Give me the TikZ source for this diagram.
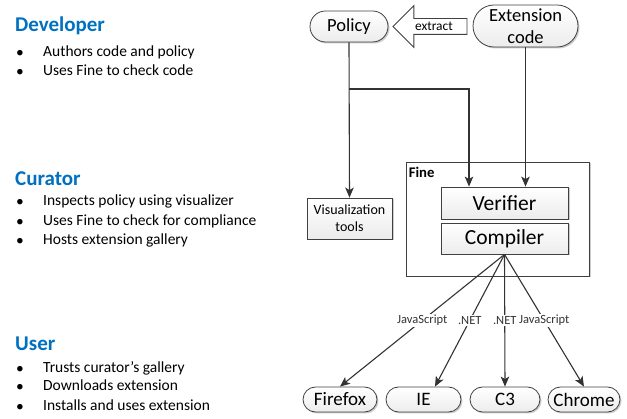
\documentclass[tikz,border=0pt]{standalone}
\usepackage{fontspec}
\setmainfont{Carlito}
\usetikzlibrary{arrows.meta,shapes.arrows,shadows}
\definecolor{headblue}{RGB}{0,112,192}
\definecolor{boxgray}{RGB}{236,236,236}
\tikzset{
  box/.style={draw=black!75, line width=0.8pt, top color=white, bottom color=boxgray,
    drop shadow={shadow xshift=1.5pt,shadow yshift=-1.5pt,fill=black!40}, inner sep=0pt},
  arr/.style={-{Stealth[length=10pt,width=8.5pt,inset=2.5pt]}, line width=1.1pt, black!80},
  head/.style={anchor=mid west, inner sep=0pt, text=headblue, font=\fontsize{21}{25}\selectfont\bfseries},
  item/.style={anchor=mid west, inner sep=0pt, font=\fontsize{15.5}{19}\selectfont},
  dot/.style={inner sep=0pt, font=\fontsize{15.5}{19}\selectfont},
  lbl/.style={fill=white, inner sep=1pt, font=\fontsize{12.5}{14}\selectfont},
  browser/.style={box, rounded corners=12.5pt, minimum height=25pt, font=\fontsize{19}{22}\selectfont},
}
\begin{document}
\begin{tikzpicture}[x=1pt,y=-1pt]
\useasboundingbox (0,0) rectangle (627,419);

% roles
\node[head] (dev) at (15,29){Developer};
\foreach\y/\t [count=\i] in {54/Authors code and policy,73/Uses Fine to check code}{
	\node[dot] at (20,\y){\textbullet};
	\node[item] (dev\i) at (43,\y){\t};}

\node[head] (cur) at (15,183){Curator};
\foreach\y/\t [count=\i] in {203/Inspects policy using visualizer,223/Uses Fine to check for compliance,242/Hosts extension gallery}{
	\node[dot] at (20,\y){\textbullet};
	\node[item] (cur\i) at (43,\y){\t};}

\node[head] (usr) at (15,348){User};
\foreach\y/\t [count=\i] in {370/Trusts curator’s gallery,388/Downloads extension,408/Installs and uses extension}{
	\node[dot] at (20,\y){\textbullet};
	\node[item] (usr\i) at (43,\y){\t};}

% top row
\node[box, rounded corners=15.5pt, minimum width=78pt, minimum height=31pt,
  font=\fontsize{18.5}{22}\selectfont] (policy) at (349,26.5){Policy};
\node[box, rounded corners=21pt, minimum width=105pt, minimum height=42pt, align=center,
  font=\fontsize{18.5}{22}\selectfont] (extcode) at (525.5,26){Extension\\code};
\node[single arrow, draw=black!75, line width=0.8pt, fill=white, shape border rotate=180,
  anchor=tip, minimum height=74pt, single arrow head extend=13pt, single arrow tip angle=90,
  text height=10pt, text depth=1pt, inner ysep=2pt, inner xsep=2pt,
  font=\fontsize{13.4}{15}\selectfont] (extract) at ([xshift=4pt]policy.east){extract};

% tools
\node[box, minimum width=85pt, minimum height=41pt, align=center,
  font=\fontsize{14}{17}\selectfont] (vis) at (349.5,218.5){Visualization\\tools};
\node[box, top color=white, bottom color=white, minimum width=183pt, minimum height=114pt] (fine) at (497.5,219){};
\node[anchor=north west, inner sep=0pt, font=\fontsize{14.7}{17}\selectfont\bfseries] (finelbl)
  at ([xshift=3pt,yshift=-5pt]fine.north west){Fine};
\node[box, minimum width=127pt, minimum height=32pt, font=\fontsize{21.5}{25}\selectfont] (verifier) at (504.5,203){Verifier};
\node[box, minimum width=127pt, minimum height=31pt, font=\fontsize{21.5}{25}\selectfont] (compiler) at (504.5,238.5){Compiler};

% browsers
\node[browser, minimum width=74pt] (firefox) at (340,399.5){Firefox};
\node[browser, minimum width=75pt] (ie) at (423.5,399.5){IE};
\node[browser, minimum width=70pt] (cthree) at (505,399.5){C3};
\node[browser, minimum width=72pt] (chrome) at (584,399.5){Chrome};

% connectors
\coordinate (branch) at (policy.south |- 0,89);
\draw[arr](policy.south)--(vis.north);
\draw[arr](branch)-|([xshift=-35.5pt]verifier.north);
\draw[arr](extcode.south)--(extcode.south |- verifier.north);

\draw[arr](compiler.south)--(firefox.north) node[lbl,pos=0.5]{JavaScript};
\draw[arr](compiler.south)--([xshift=11.5pt]ie.north) node[lbl,pos=0.5]{.NET};
\draw[arr](compiler.south)--(cthree.north) node[lbl,pos=0.5]{.NET};
\draw[arr](compiler.south)--(chrome.north) node[lbl,pos=0.5]{JavaScript};
\end{tikzpicture}
\end{document}
